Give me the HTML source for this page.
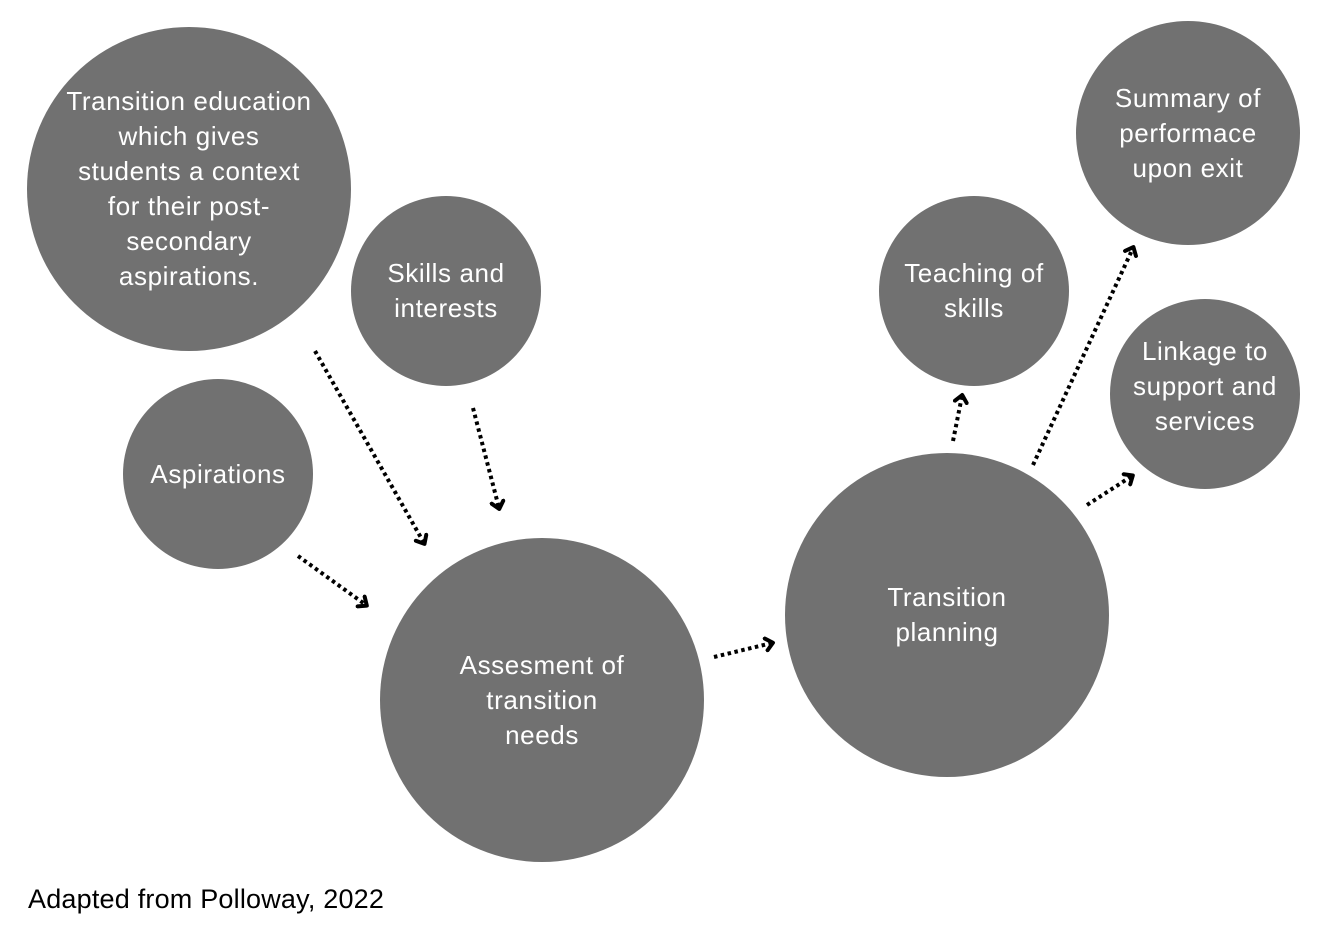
<!DOCTYPE html>
<html><head><meta charset="utf-8"><style>
html,body{margin:0;padding:0;background:#fff;}
svg{display:block;}
text{font-family:"Liberation Sans",sans-serif;}
.c{fill:#717171;}
.t{fill:#fff;font-size:26px;text-anchor:middle;letter-spacing:0.6px;}
.a{stroke:#000;stroke-width:4;stroke-dasharray:3.5 3.5;fill:none;}
</style></head><body>
<svg width="1335" height="931" viewBox="0 0 1335 931" xmlns="http://www.w3.org/2000/svg">
<defs>
<marker id="m" markerWidth="16" markerHeight="16" refX="8" refY="8" orient="auto" markerUnits="userSpaceOnUse">
<path d="M2,2 L9,8 L2,14" stroke="#000" stroke-width="4" fill="none" stroke-linecap="round" stroke-linejoin="round"/>
</marker>
</defs>
<circle class="c" cx="189" cy="189" r="162"/>
<circle class="c" cx="446" cy="291" r="95"/>
<circle class="c" cx="218" cy="474" r="95"/>
<circle class="c" cx="542" cy="700" r="162"/>
<circle class="c" cx="947" cy="615" r="162"/>
<circle class="c" cx="974" cy="291" r="95"/>
<circle class="c" cx="1188" cy="133" r="112"/>
<circle class="c" cx="1205" cy="394" r="95"/>

<text class="t" x="189" y="110">Transition education</text>
<text class="t" x="189" y="145">which gives</text>
<text class="t" x="189" y="180">students a  context</text>
<text class="t" x="189" y="215">for their post-</text>
<text class="t" x="189" y="250">secondary</text>
<text class="t" x="189" y="285">aspirations.</text>

<text class="t" x="446" y="282">Skills and</text>
<text class="t" x="446" y="317">interests</text>
<text class="t" x="218" y="483">Aspirations</text>
<text class="t" x="542" y="674">Assesment of</text>
<text class="t" x="542" y="709">transition</text>
<text class="t" x="542" y="744">needs</text>
<text class="t" x="947" y="606">Transition</text>
<text class="t" x="947" y="641">planning</text>
<text class="t" x="974" y="282">Teaching of</text>
<text class="t" x="974" y="317">skills</text>
<text class="t" x="1188" y="107">Summary of</text>
<text class="t" x="1188" y="142">performace</text>
<text class="t" x="1188" y="177">upon exit</text>
<text class="t" x="1205" y="360">Linkage to</text>
<text class="t" x="1205" y="395">support and</text>
<text class="t" x="1205" y="430">services</text>

<line class="a" x1="315" y1="351" x2="424" y2="543" marker-end="url(#m)"/>
<line class="a" x1="473" y1="408" x2="499" y2="508" marker-end="url(#m)"/>
<line class="a" x1="298" y1="556" x2="366" y2="605" marker-end="url(#m)"/>
<line class="a" x1="714" y1="657" x2="772" y2="643" marker-end="url(#m)"/>
<line class="a" x1="953" y1="441" x2="962" y2="396" marker-end="url(#m)"/>
<line class="a" x1="1033" y1="465" x2="1133" y2="248" marker-end="url(#m)"/>
<line class="a" x1="1087" y1="505" x2="1132" y2="476" marker-end="url(#m)"/>

<text x="28" y="908" style="font-size:27px;fill:#000;letter-spacing:0.2px;">Adapted from Polloway, 2022</text>
</svg>
</body></html>
